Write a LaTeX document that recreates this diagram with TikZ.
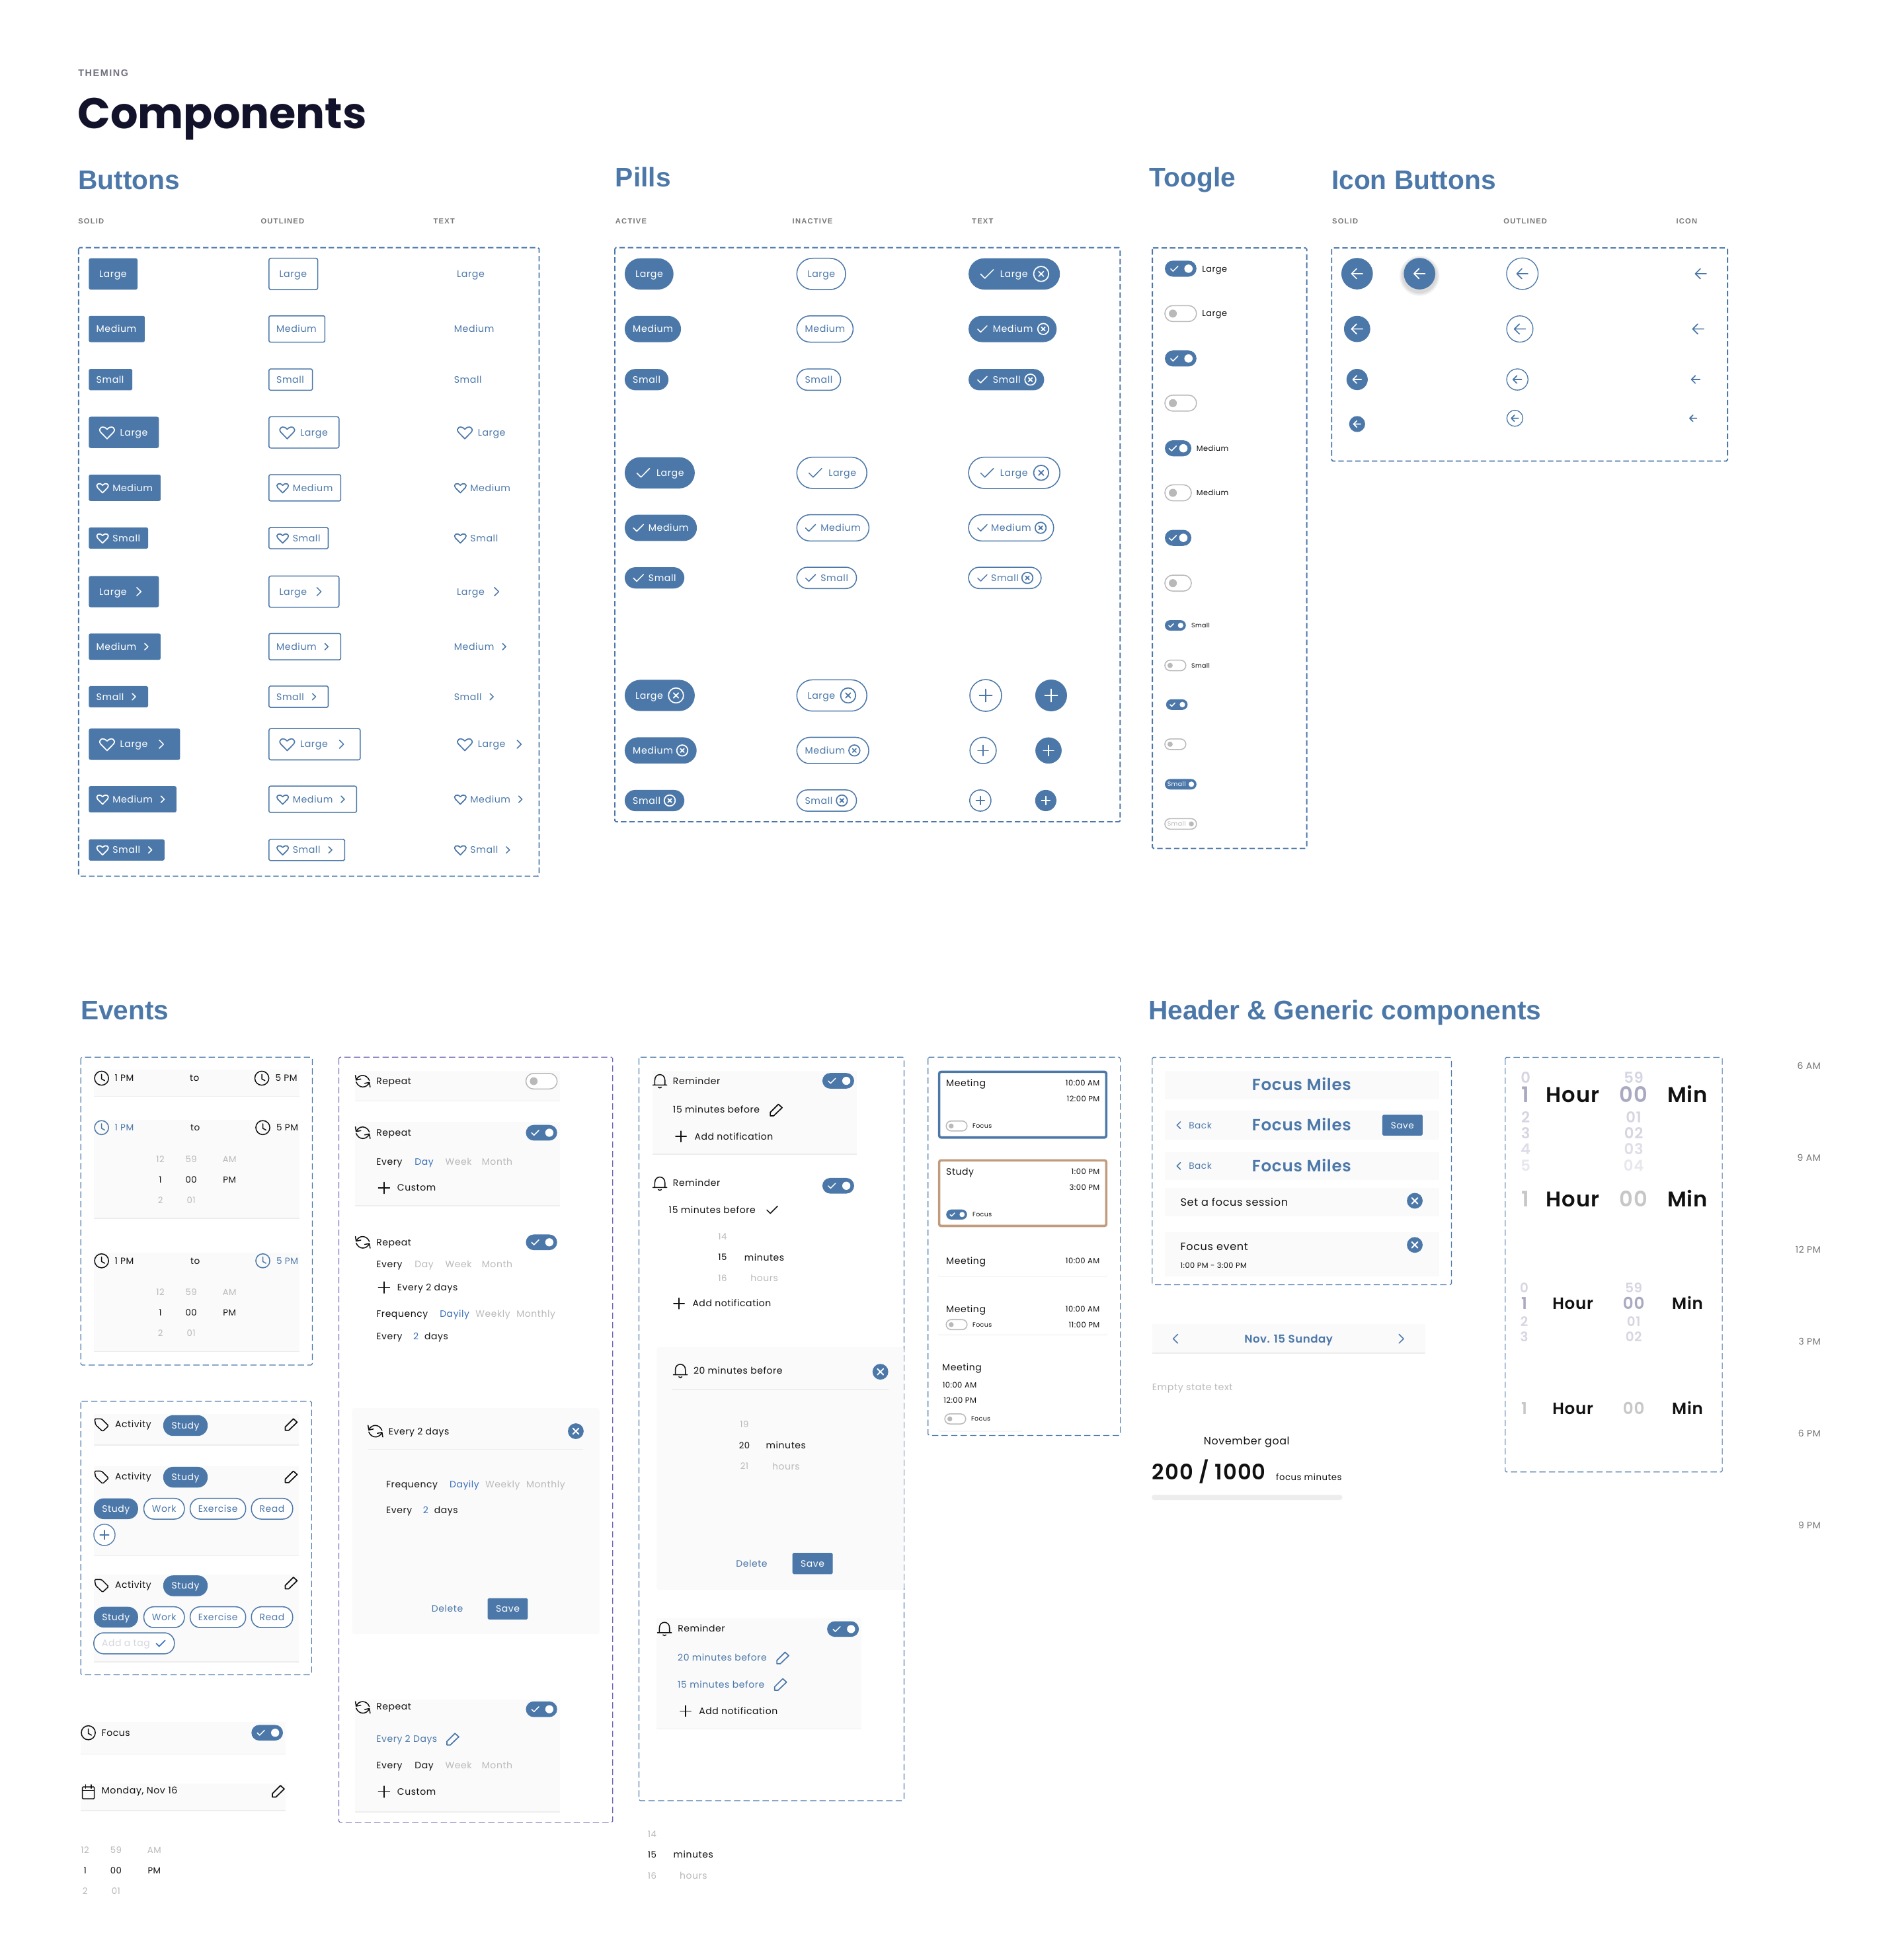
\documentclass[tikz,border=0pt]{standalone}
\usepackage{fontspec}
\usetikzlibrary{shadows}
\setmainfont{Poppins}
\newfontfamily\pop[LetterSpace=4]{Poppins}
\newfontfamily\popsb[LetterSpace=3]{Poppins SemiBold}
\newfontfamily\popbd{Poppins}[BoldFont=Poppins Bold]
\newfontfamily\hdfont{Liberation Sans}
\newfontfamily\capfont[LetterSpace=11]{Liberation Sans}
\definecolor{brand}{HTML}{4C78A9}
\definecolor{ink}{HTML}{111111}
\definecolor{navy}{HTML}{12122B}
\definecolor{mute}{HTML}{B9B9B9}
\definecolor{capgray}{HTML}{777777}
\definecolor{rowbg}{HTML}{FAFAFA}
\definecolor{rowline}{HTML}{EDEDED}
\definecolor{accent}{HTML}{2F6BC4}
\definecolor{tan}{HTML}{C19B7E}
\definecolor{violet}{HTML}{7065B5}
\definecolor{wheelA}{HTML}{A9A9C2}
\definecolor{wheelB}{HTML}{D6D6E2}
\tikzset{
  x=1pt,y=-1pt,
  icon/.style={line width=.8pt,line cap=round,line join=round},
  solidbtn/.style={fill=brand},
  outlbtn/.style={draw=brand,fill=white,line width=.8pt},
  textbtn/.style={},
  dashbox/.style={draw=brand,rounded corners=1pt,dash pattern=on 4.4pt off 2.3pt,line width=1pt},
  dashthin/.style={draw=brand,rounded corners=1pt,dash pattern=on 5pt off 2.6pt,line width=.6pt},
  softcard/.style={fill=white,rounded corners=1.5pt,drop shadow={opacity=.07,shadow xshift=0pt,shadow yshift=-1pt}}
}
\newcounter{labno}
\newcommand\labx[7]{\stepcounter{labno}\node[anchor=#1,inner sep=0pt,outer sep=0pt,text=#6,
  font={#2\fontsize{#5}{#5}\selectfont}] (lab\thelabno) at ({#3},{#4+.33*#5+.2}) {#7};}
\newcommand\lab[5][base west]{\labx{#1}{\pop}{#2}{#3}{#4}{#5}}
\newcommand\labsb[5][base west]{\labx{#1}{\popsb}{#2}{#3}{#4}{#5}}
% icons: x, y, colour, size
\newcommand\icnone[4]{}
\newcommand\icheart[4]{\begin{scope}[shift={(#1,#2)},scale=#4]
  \draw[icon,#3,line width=.9pt] (0,.85) -- (-.85,-.02) .. controls (-1.3,-.55) and (-.55,-1.05) .. (0,-.42)
    .. controls (.55,-1.05) and (1.3,-.55) .. (.85,-.02) -- cycle;\end{scope}}
\newcommand\iccheck[4]{\begin{scope}[shift={(#1,#2)},scale=#4]
  \draw[icon,#3] (-.85,.03) -- (-.3,.58) -- (.85,-.58);\end{scope}}
\newcommand\icxcirc[4]{\begin{scope}[shift={(#1,#2)},scale=#4]
  \draw[icon,#3,line width=.9pt] (0,0) circle (1) (-.33,-.33) -- (.33,.33) (-.33,.33) -- (.33,-.33);\end{scope}}
\newcommand\icxfill[4]{\begin{scope}[shift={(#1,#2)},scale=#4]
  \fill[#3] (0,0) circle (1);
  \draw[icon,white,line width=1pt] (-.38,-.38) -- (.38,.38) (-.38,.38) -- (.38,-.38);\end{scope}}
\newcommand\icchev[4]{\begin{scope}[shift={(#1,#2)},scale=#4]
  \draw[icon,#3] (-.28,-.55) -- (.28,0) -- (-.28,.55);\end{scope}}
\newcommand\icchevl[4]{\begin{scope}[shift={(#1,#2)},scale=#4]
  \draw[icon,#3] (.28,-.55) -- (-.28,0) -- (.28,.55);\end{scope}}
\newcommand\icarrow[4]{\begin{scope}[shift={(#1,#2)},scale=#4]
  \draw[icon,#3,line width=.9pt] (1,0) -- (-1,0) (-.1,-.9) -- (-1,0) -- (-.1,.9);\end{scope}}
\newcommand\icplus[4]{\begin{scope}[shift={(#1,#2)},scale=#4]
  \draw[icon,#3] (-1,0) -- (1,0) (0,-1) -- (0,1);\end{scope}}
\newcommand\icclock[4]{\begin{scope}[shift={(#1,#2)},scale=#4]
  \draw[icon,#3] (0,0) circle (1) (0,-.55) -- (0,.1) -- (.45,.35);\end{scope}}
\newcommand\ictag[4]{\begin{scope}[shift={(#1,#2)},scale=#4]
  \draw[icon,#3,rounded corners=.8pt] (-1,-.8) -- (0,-.8) -- (1,.2) -- (.15,1) -- (-.85,.05) -- cycle;\end{scope}}
\newcommand\icpen[4]{\begin{scope}[shift={(#1,#2)},scale=#4]
  \draw[icon,#3,line width=.9pt] (-.95,.95) -- (-.95,.4) -- (.35,-.9) -- (.95,-.35) -- (-.4,.95) -- cycle;\end{scope}}
\newcommand\icbell[4]{\begin{scope}[shift={(#1,#2)},scale=#4]
  \draw[icon,#3] (-1,.6) -- (1,.6) (-.72,.6) -- (-.72,-.1) .. controls (-.72,-1.15) and (.72,-1.15) .. (.72,-.1) -- (.72,.6)
    (-.22,.9) .. controls (-.1,1.05) and (.1,1.05) .. (.22,.9);\end{scope}}
\newcommand\icrepeat[4]{\begin{scope}[shift={(#1,#2)},scale=#4]
  \draw[icon,#3] (-.95,-.75) -- (-.85,-.15) -- (-.25,-.28) (-.85,-.15) .. controls (-.5,-.95) and (.5,-.95) .. (.85,-.1)
    (.95,.75) -- (.85,.15) -- (.25,.28) (.85,.15) .. controls (.5,.95) and (-.5,.95) .. (-.85,.1);\end{scope}}
\newcommand\iccal[4]{\begin{scope}[shift={(#1,#2)},scale=#4]
  \draw[icon,#3,rounded corners=.6pt] (-.85,-.7) rectangle (.85,1);
  \draw[icon,#3] (-.85,-.2) -- (.85,-.2) (-.4,-1) -- (-.4,-.5) (.4,-1) -- (.4,-.5);\end{scope}}
% one button or pill, reads the loop variables
\newcommand\chip[4]{%
  \pgfmathsetmacro\rr{#4*\h}
  \path[#1,rounded corners=\rr pt] ({#3},{\y-\h/2}) rectangle ({#3+\w},{\y+\h/2});
  \csname ic\li\endcsname{#3+\lo}{\y}{#2}{\is}
  \lab{#3+\tx}{\y}{7.5}{#2}{\lbl}
  \csname ic\ri\endcsname{#3+\ro}{\y}{#2}{\is}
}
\newcommand\tgon[4]{%
  \fill[brand,rounded corners=#4*.5pt] (#1,{#2-#4/2}) rectangle ({#1+#3},{#2+#4/2});
  \fill[white] ({#1+#3-#4/2},#2) circle ({.26*#4});
  \iccheck{#1+.3*#3}{#2}{white}{.27*#4}
}
\newcommand\tgoff[4]{%
  \draw[mute,fill=white,line width=.8pt,rounded corners=#4*.5pt] (#1,{#2-#4/2}) rectangle ({#1+#3},{#2+#4/2});
  \fill[mute] ({#1+#4/2},#2) circle ({.25*#4});
}
\newcommand\rowpanel[4]{%
  \fill[rowbg] (#1,#2) rectangle (#3,#4);
  \draw[rowline,line width=.8pt] (#1,#4) -- (#3,#4);
}
\newcommand\timewheel[4]{%
  \lab[base]{#1}{#4}{7}{mute}{12}\lab[base]{#2}{#4}{7}{mute}{59}\lab[base]{#3}{#4}{7}{mute}{AM}
  \lab[base]{#1}{#4+16.3}{7}{ink}{1}\lab[base]{#2}{#4+16.3}{7}{ink}{00}\lab[base]{#3}{#4+16.3}{7}{ink}{PM}
  \lab[base]{#1}{#4+32.7}{7}{mute}{2}\lab[base]{#2}{#4+32.7}{7}{mute}{01}
}
\newcommand\minwheel[6]{%
  \lab[base]{#1}{#3}{7}{mute}{#4}
  \lab[base]{#1}{#3+16.7}{7}{ink}{#5}\lab[base]{#2}{#3+16.7}{7.4}{ink}{minutes}
  \lab[base]{#1}{#3+33.4}{7}{mute}{#6}\lab[base]{#2}{#3+33.4}{7.4}{mute}{hours}
}
\newcommand\heading[3]{\labx{base west}{\hdfont\bfseries}{#1}{#2-.1}{21.5}{brand}{#3}}
\newcommand\collabel[3]{\labx{base west}{\capfont\bfseries}{#1}{#2}{5.9}{capgray}{#3}}
\newcommand\tagchip[6]{%
  \path[#5,rounded corners=8pt] (#1,{#3-8.3}) rectangle (#2,{#3+8.3});
  \lab[base]{(#1+#2)/2}{#3}{7.4}{#6}{#4}
}
\newcommand\activity[3]{%
  \ictag{81.2}{#1}{ink}{5.6}
  \lab{92}{#1}{7.4}{ink}{Activity}
  \tagchip{130.5}{166}{#2}{Study}{solidbtn}{white}
  \icpen{232.8}{#3}{ink}{5}
}
\newcommand\tagrow[1]{%
  \tagchip{75}{110.4}{#1}{Study}{solidbtn}{white}
  \tagchip{115}{147.4}{#1}{Work}{outlbtn}{brand}
  \tagchip{152}{196.4}{#1}{Exercise}{outlbtn}{brand}
  \tagchip{201}{234}{#1}{Read}{outlbtn}{brand}
}
\newcommand\everyrow[2]{%
  \lab{300.9}{#1}{7.4}{ink}{Every}
  \lab{331.6}{#1}{7.4}{#2}{Day}
  \lab{356}{#1}{7.4}{mute}{Week}
  \lab{385.2}{#1}{7.4}{mute}{Month}
}
\newcommand\freqrows[3]{%
  \lab{#1}{#2}{7.4}{ink}{Frequency}
  \lab{#1+50.7}{#2}{7.4}{accent!70!brand}{Dayily}
  \lab{#1+79.3}{#2}{7.4}{mute}{Weekly}
  \lab{#1+112}{#2}{7.4}{mute}{Monthly}
  \lab{#1}{#3}{7.4}{ink}{Every}
  \lab{#1+29.5}{#3}{7.4}{accent!70!brand}{2}
  \lab{#1+38.4}{#3}{7.4}{ink}{days}
}
\newcommand\saverow[3]{%
  \lab{#1}{#3}{7.4}{brand}{Delete}
  \fill[brand,rounded corners=1pt] (#2,{#3-8.5}) rectangle ({#2+32.2},{#3+8.5});
  \lab[base]{#2+16.1}{#3}{7.4}{white}{Save}
}
\newcommand\meetcard[7]{%
  \draw[#1,fill=white,rounded corners=1.5pt,line width=1.9pt] (750.8,{#2+.9}) rectangle (884.4,{#3-.9});
  \lab{756.4}{#2+10}{7.4}{ink}{#4}
  \lab[base east]{879.1}{#2+10}{6.1}{ink}{#5}
  \lab[base east]{879.1}{#2+22.6}{6.1}{ink}{#6}
  #7{756.4}{#2+44.2}{16.7}{8}
  \lab{777.5}{#2+44.2}{5}{ink}{Focus}
}
\newcommand\hourset[4]{%
  \labsb[base]{#2}{#1}{#3}{#4}{1}
  \labsb[base]{1257.4}{#1}{#3}{ink}{Hour}
  \labsb[base]{1306}{#1}{#3}{#4}{00}
  \labsb[base]{1349}{#1}{#3}{ink}{Min}
}
\begin{document}
\begin{tikzpicture}
  \useasboundingbox (0,0) rectangle (1520,1567);
  \fill[white] (0,0) rectangle (1520,1567);
  % title
  \labx{base west}{\capfont\bfseries}{62.5}{58.5}{7.6}{navy!60!white}{THEMING}
  \labx{base west}{\popbd\bfseries}{62}{91}{34.5}{navy}{Components}
  \heading{62.5}{144}{Buttons}
  \heading{492}{142}{Pills}
  \heading{919}{142}{Toogle}
  \heading{1064.5}{144}{Icon Buttons}
  \heading{64.5}{808}{Events}
  \heading{918}{808}{Header \& Generic components}
  \collabel{62.5}{177}{SOLID}\collabel{208.5}{177}{OUTLINED}\collabel{346.5}{177}{TEXT}
  \collabel{492}{177}{ACTIVE}\collabel{633.5}{177}{INACTIVE}\collabel{777}{177}{TEXT}
  \collabel{1065}{176.5}{SOLID}\collabel{1202}{176.5}{OUTLINED}\collabel{1340}{176.5}{ICON}
  % buttons
  \draw[dashbox] (62.8,198) rectangle (431,700.5);
  \def\btnrows{219/25/39/Large/8.3/none/0/none/0/6,
    263/21/44.7/Medium/6/none/0/none/0/4.7,
    303.5/17/34.8/Small/6/none/0/none/0/4.7,
    345.7/25/56/Large/25/heart/14.6/none/0/6,
    390/21/57.4/Medium/19/heart/11/none/0/4.7,
    430.2/17/47.4/Small/19/heart/11/none/0/4.7,
    473/25/56/Large/8.3/none/0/chev/40/6,
    517/21/57.4/Medium/6/none/0/chev/46/4.7,
    557/17/47.4/Small/6/none/0/chev/36/4.7,
    595/25/73/Large/25/heart/14.6/chev/58/6,
    639/21/70/Medium/19/heart/11/chev/59/4.7,
    679.5/17/60.5/Small/19/heart/11/chev/49/4.7}
  \foreach \cx/\sty/\fg in {71/solidbtn/white,215/outlbtn/brand,357/textbtn/brand} {
    \foreach \y/\h/\w/\lbl/\tx/\li/\lo/\ri/\ro/\is in \btnrows {
      \chip{\sty}{\fg}{\cx}{.06}
    }
  }
  % pills
  \draw[dashbox] (491.5,198) rectangle (895.5,657);
  \def\pillrows{219/25/39/Large/8.6/none/0/none/0/6,
    263/21/45/Medium/6.5/none/0/none/0/4.7,
    303.5/17/35/Small/6.5/none/0/none/0/4.7,
    378/25/56/Large/25.4/check/14.8/none/0/6,
    422/21/57.7/Medium/19/check/11/none/0/4.7,
    462/17/47.7/Small/19/check/11/none/0/4.7,
    556/25/56/Large/8.6/none/0/xcirc/41/6,
    600/21/57.5/Medium/6.5/none/0/xcirc/46/4.4,
    640/17/47.7/Small/6.5/none/0/xcirc/36/4.4}
  \foreach \cx/\sty/\fg in {499.4/solidbtn/white,637/outlbtn/brand} {
    \foreach \y/\h/\w/\lbl/\tx/\li/\lo/\ri/\ro/\is in \pillrows {
      \chip{\sty}{\fg}{\cx}{.5}
    }
  }
  \foreach \y/\h/\w/\lbl/\tx/\li/\lo/\ri/\ro/\is in {219/25/73/Large/25.3/check/14.8/xcirc/58/6,
    263/21/70.4/Medium/19.4/check/11/xcirc/59.7/4.4,
    303.5/17/60.4/Small/19.4/check/11/xcirc/49.4/4.4} {
    \chip{solidbtn}{white}{774.3}{.5}
  }
  \foreach \y/\h/\w/\lbl/\tx/\li/\lo/\ri/\ro/\is in {378/25/73/Large/25.3/check/14.8/xcirc/58/6,
    422/21/68/Medium/18/check/11/xcirc/57.6/4.4,
    462/17/58/Small/18/check/11/xcirc/47/4.4} {
    \chip{outlbtn}{brand}{774.3}{.5}
  }
  \foreach \y/\r/\xo/\xs in {556/12.7/788/840.3,600/10.5/785.9/838.2,640/8.5/783.7/836} {
    \draw[brand,line width=.8pt] (\xo,\y) circle (\r);
    \icplus{\xo}{\y}{brand}{.4*\r}
    \fill[brand] (\xs,\y) circle (\r);
    \icplus{\xs}{\y}{white}{.4*\r}
  }
  % toggles
  \draw[dashbox] (921.2,198.2) rectangle (1044.6,678.3);
  \tgon{931.2}{214.8}{25.3}{12.8}\lab{961}{214.8}{6.8}{ink}{Large}
  \tgoff{931.2}{250.7}{25.3}{12.8}\lab{961}{250.7}{6.8}{ink}{Large}
  \tgon{931.2}{286.6}{25.3}{12.8}
  \tgoff{931.2}{322.3}{25.3}{12.8}
  \tgon{931.2}{358.4}{21.2}{12.8}\lab{956.5}{358.4}{6}{ink}{Medium}
  \tgoff{931.2}{394}{21.2}{12.8}\lab{956.5}{394}{6}{ink}{Medium}
  \tgon{931.2}{430}{21.2}{12.8}
  \tgoff{931.2}{466.2}{21.2}{12.8}
  \tgon{931.2}{500}{16.8}{8.4}\lab{952.4}{500}{5}{ink}{Small}
  \tgoff{931.2}{532}{16.8}{8.4}\lab{952.4}{532}{5}{ink}{Small}
  \tgon{932.2}{563.3}{17.2}{8.4}
  \tgoff{931.2}{595}{16.8}{8.4}
  \fill[brand,rounded corners=4.2pt] (931.2,622.8) rectangle (956.5,631.2);
  \lab{933.2}{627}{5}{white}{Small}
  \fill[white] (952.4,627) circle (2.2);
  \draw[mute,line width=.8pt,rounded corners=4.2pt] (931.2,654.5) rectangle (956.5,662.9);
  \lab{933.2}{658.7}{5}{mute}{Small}
  \fill[mute] (952.4,658.7) circle (2);
  % icon buttons
  \draw[dashbox] (1064.5,198.2) rectangle (1381,368.6);
  \foreach \r in {16,15,14} {
    \fill[black,opacity=.05] (1134.8,220.5) circle (\r);
  }
  \fill[brand] (1134.8,218.8) circle (12.6);
  \icarrow{1134.8}{218.8}{white}{4.4}
  \foreach \ys/\yo/\r/\xo/\xa/\ia/\xb in {218.8/218.8/12.6/1217/1359.7/4.4/1084.9,
    263/263/10.5/1215/1357.6/4.4/1084.9,303.4/303.4/8.5/1213/1355.6/3.4/1084.9,339/334.4/6.4/1211/1353.6/2.8/1084.9} {
    \fill[brand] (\xb,\ys) circle (\r);
    \icarrow{\xb}{\ys}{white}{\ia}
    \draw[brand,line width=.7pt] (\xo,\yo) circle (\r);
    \icarrow{\xo}{\yo}{brand}{\ia}
    \icarrow{\xa}{\yo}{brand}{\ia}
  }
  % events, time
  \draw[dashthin] (64.6,845.2) rectangle (249.7,1091.3);
  \rowpanel{74.9}{855.3}{239.4}{876.4}
  \icclock{81.2}{862}{ink}{5.6}\lab{91.8}{862}{7.2}{ink}{1 PM}
  \lab{151.7}{862}{7.2}{ink}{to}
  \icclock{209.3}{862}{ink}{5.6}\lab{220.2}{862}{7.2}{ink}{5 PM}
  \rowpanel{74.9}{895.1}{239.4}{974}
  \icclock{81.2}{901.5}{brand}{5.6}\lab{91.8}{901.5}{7.2}{brand}{1 PM}
  \lab{152.3}{901.5}{7.2}{ink}{to}
  \icclock{210.1}{901.5}{ink}{5.6}\lab{221}{901.5}{7.2}{ink}{5 PM}
  \timewheel{128.2}{152.8}{183.5}{927.1}
  \rowpanel{74.9}{1001.3}{239.4}{1080.5}
  \icclock{81.2}{1008}{ink}{5.6}\lab{91.8}{1008}{7.2}{ink}{1 PM}
  \lab{152.3}{1008}{7.2}{ink}{to}
  \icclock{210.1}{1008}{brand}{5.6}\lab{221}{1008}{7.2}{brand}{5 PM}
  \timewheel{128.2}{152.8}{183.5}{1033.3}
  % events, activity
  \draw[dashthin] (64.6,1120.3) rectangle (249.1,1339);
  \rowpanel{74.9}{1130.7}{239}{1155.3}
  \activity{1138.8}{1139.7}{1138.8}
  \rowpanel{74.9}{1172}{239}{1243.7}
  \activity{1180.6}{1181}{1180.6}
  \tagrow{1206.2}
  \draw[brand,fill=white,line width=.7pt] (83.5,1227.1) circle (8.5);
  \icplus{83.5}{1227.1}{brand}{3.6}
  \rowpanel{74.9}{1259}{239}{1328.6}
  \activity{1267.3}{1267.8}{1265.5}
  \tagrow{1292.9}
  \draw[brand,fill=white,line width=.8pt,rounded corners=8pt] (75,1305.4) rectangle (139.4,1322.2);
  \lab{81.5}{1313.8}{7.4}{wheelB}{Add a tag}
  \iccheck{128.5}{1313.8}{accent}{4.2}
  % focus, date, loose wheel
  \rowpanel{64.6}{1376.9}{228.2}{1402.3}
  \icclock{70.6}{1385.3}{ink}{5.6}\lab{81.2}{1385.3}{7.4}{ink}{Focus}
  \tgon{201}{1385.3}{25.2}{12.5}
  \rowpanel{64.6}{1426.1}{228.2}{1447.5}
  \iccal{70.6}{1432.5}{ink}{5.6}\lab{81.2}{1431.5}{7.5}{ink}{Monday, Nov 16}
  \icpen{222.5}{1432}{ink}{5}
  \timewheel{68}{92.7}{123.3}{1479}
  % events, repeat
  \draw[dashthin,violet] (270.9,845.2) rectangle (489.8,1457);
  \rowpanel{283.8}{856}{447.7}{880.3}
  \icrepeat{290}{864.4}{ink}{6.2}\lab{300.9}{864.4}{7.4}{ink}{Repeat}
  \tgoff{420.4}{864.4}{25}{12.5}
  \rowpanel{283.8}{896.8}{447.7}{963.9}
  \icrepeat{290}{905.6}{ink}{6.2}\lab{300.9}{905.6}{7.4}{ink}{Repeat}
  \tgon{420.4}{905.6}{25}{12.5}
  \everyrow{928.8}{accent!70!brand}
  \icplus{307}{949.7}{ink}{4.5}\lab{317.6}{949.7}{7.4}{ink}{Custom}
  \icrepeat{290}{993.2}{ink}{6.2}\lab{300.9}{993.2}{7.4}{ink}{Repeat}
  \tgon{420.4}{993.2}{25}{12.5}
  \everyrow{1011}{mute}
  \icplus{307}{1029.3}{ink}{4.5}\lab{317.6}{1029.3}{7.4}{ink}{Every 2 days}
  \freqrows{300.9}{1050.2}{1068.4}
  \fill[rowbg,rounded corners=2pt] (281.5,1125.7) rectangle (479.2,1306.4);
  \icrepeat{300.1}{1144.2}{ink}{6.2}\lab{310.7}{1144.2}{7.4}{ink}{Every 2 days}
  \icxfill{460.3}{1144.2}{brand}{6.3}
  \draw[rowline,line width=.6pt] (293.8,1158.7) -- (466.3,1158.7);
  \freqrows{308.7}{1186.7}{1207.6}
  \saverow{345.1}{389.8}{1286.2}
  \rowpanel{283.8}{1358.6}{447.7}{1448.5}
  \icrepeat{290}{1365}{ink}{6.2}\lab{300.9}{1364.5}{7.4}{ink}{Repeat}
  \tgon{420.4}{1366.5}{25}{12.5}
  \lab{300.9}{1390.3}{7.4}{brand}{Every 2 Days}
  \icpen{362}{1390.3}{brand}{5}
  \everyrow{1411.3}{ink}
  \icplus{307}{1432.5}{ink}{4.5}\lab{317.6}{1432.5}{7.4}{ink}{Custom}
  % events, reminder
  \draw[dashthin] (510.8,845.2) rectangle (722.7,1439.6);
  \rowpanel{521.5}{856}{685}{922.8}
  \icbell{527.5}{864.1}{ink}{5.6}\lab{538}{864.1}{7.4}{ink}{Reminder}
  \tgon{657.4}{864.1}{25.4}{12.5}
  \lab{538}{887.3}{7.4}{ink}{15 minutes before}
  \icpen{620.5}{887.3}{ink}{5}
  \icplus{544.4}{908.6}{ink}{4.3}\lab{555.2}{908.6}{7.4}{ink}{Add notification}
  \icbell{527.5}{946}{ink}{5.6}\lab{538}{946}{7.4}{ink}{Reminder}
  \tgon{657.4}{948}{25.4}{12.5}
  \lab{534.7}{967.2}{7.4}{ink}{15 minutes before}
  \iccheck{617.3}{967.2}{ink}{5}
  \minwheel{577.6}{611}{988.5}{14}{15}{16}
  \icplus{542.8}{1042.1}{ink}{4.3}\lab{553.6}{1042.1}{7.4}{ink}{Add notification}
  \fill[rowbg,rounded corners=2pt] (525,1077.1) rectangle (722.7,1271);
  \icbell{543.9}{1095.7}{ink}{5.6}\lab{554.4}{1095.7}{7.4}{ink}{20 minutes before}
  \icxfill{703.8}{1096.7}{brand}{6.3}
  \draw[rowline,line width=.7pt] (537.7,1110.9) -- (710.3,1110.9);
  \minwheel{595.1}{628.3}{1138.8}{19}{20}{21}
  \saverow{588.4}{633.5}{1250}
  \rowpanel{525}{1293.7}{688.5}{1382.2}
  \icbell{531.2}{1302}{ink}{5.6}\lab{541.9}{1302}{7.4}{ink}{Reminder}
  \tgon{661.2}{1302.4}{25.4}{12.5}
  \lab{541.8}{1325.4}{7.4}{brand}{20 minutes before}
  \icpen{625.8}{1325.4}{brand}{5}
  \lab{541.8}{1346.6}{7.4}{brand}{15 minutes before}
  \icpen{624}{1346.6}{brand}{5}
  \icplus{548.1}{1367.9}{ink}{4.3}\lab{558.8}{1367.9}{7.4}{ink}{Add notification}
  \minwheel{521.3}{554.3}{1466.2}{14}{15}{16}
  % events, cards
  \draw[dashthin] (741.9,845.2) rectangle (895.6,1147.6);
  \meetcard{brand}{856}{910.3}{Meeting}{10:00 AM}{12:00 PM}{\tgoff}
  \meetcard{tan}{926.8}{981}{Study}{1:00 PM}{3:00 PM}{\tgon}
  \path[softcard] (749.9,996.9) rectangle (885.3,1020);
  \lab{756.4}{1008}{7.4}{ink}{Meeting}\lab[base east]{879.1}{1008}{6.1}{ink}{10:00 AM}
  \path[softcard] (749.9,1036.7) rectangle (885.3,1066.7);
  \lab{756.4}{1046.5}{7.4}{ink}{Meeting}\lab[base east]{879.1}{1046.5}{6.1}{ink}{10:00 AM}
  \tgoff{756.4}{1059}{16.7}{8}\lab{777.5}{1059}{5}{ink}{Focus}\lab[base east]{879.1}{1059}{6.1}{ink}{11:00 PM}
  \path[softcard] (749.9,1082.9) rectangle (817.6,1143.6);
  \lab{753.2}{1093}{7.4}{ink}{Meeting}
  \lab{753.5}{1107.1}{6.1}{ink}{10:00 AM}
  \lab{754.3}{1119.6}{6.1}{ink}{12:00 PM}
  \tgoff{755.3}{1134.4}{16.7}{8}\lab{776.4}{1134.4}{5}{ink}{Focus}
  % header and generic
  \draw[dashthin] (921.1,845.3) rectangle (1160.3,1027.1);
  \fill[rowbg] (931.1,855.9) rectangle (1150.3,878.8);
  \fill[rowbg] (931.1,888) rectangle (1150.3,910.9);
  \fill[rowbg] (931.1,920.9) rectangle (1150.3,943.5);
  \fill[rowbg] (931.1,949.5) rectangle (1150.3,972.6);
  \fill[rowbg] (931.1,985) rectangle (1150.3,1020.4);
  \labsb[base]{1040.5}{867.2}{13}{brand}{Focus Miles}
  \labsb[base]{1040.5}{899.6}{13}{brand}{Focus Miles}
  \labsb[base]{1040.5}{932.2}{13}{brand}{Focus Miles}
  \icchevl{942.3}{899.6}{brand}{5}\lab{950.4}{899.6}{7.2}{brand}{Back}
  \icchevl{942.3}{932.2}{brand}{5}\lab{950.4}{932.2}{7.2}{brand}{Back}
  \fill[brand,rounded corners=1pt] (1105,891.2) rectangle (1137.3,907.9);
  \lab[base]{1121.1}{899.6}{7.2}{white}{Save}
  \lab{943.7}{961.3}{8.5}{ink}{Set a focus session}
  \icxfill{1131}{960}{brand}{6.3}
  \lab{943.7}{996.7}{8.5}{ink}{Focus event}
  \lab{943.7}{1011.5}{6}{ink}{1:00 PM - 3:00 PM}
  \icxfill{1131}{995.3}{brand}{6.3}
  \rowpanel{921.1}{1058.4}{1139.5}{1081.9}
  \icchevl{939.7}{1070.3}{brand}{6.5}
  \icchev{1120.2}{1070.3}{brand}{6.5}
  \labsb[base]{1030.1}{1070.3}{8.8}{brand}{Nov. 15 Sunday}
  \lab{921.1}{1109.1}{7.5}{mute}{Empty state text}
  \lab{962.3}{1152}{8.4}{ink}{November goal}
  \labsb{921.1}{1177}{17}{ink}{200 / 1000}
  \lab{1020.1}{1181}{7}{ink}{focus minutes}
  \fill[rowline,rounded corners=2pt] (920.7,1195.1) rectangle (1073.1,1199.2);
  % hour wheels
  \draw[dashthin] (1203.3,845.3) rectangle (1376.8,1176.8);
  \hourset{875.3}{1219.6}{17}{wheelA}
  \hourset{959.2}{1219.6}{17}{mute!80!white}
  \hourset{1042.2}{1218.5}{13}{wheelA}
  \hourset{1126.4}{1218.5}{13}{mute!80!white}
  \foreach \y/\a/\b/\c in {861.8/0/59/wheelB,893.6/2/01/wheelB,906.3/3/02/wheelB,919/4/03/wheelB!80!white,931.9/5/04/wheelB!60!white} {
    \labsb[base]{1219.6}{\y}{12}{\c}{\a}
    \labsb[base]{1306}{\y}{12}{\c}{\b}
  }
  \foreach \y/\a/\b in {1029.8/0/59,1056.5/2/01,1068.9/3/02} {
    \labsb[base]{1218.5}{\y}{10.5}{wheelB}{\a}
    \labsb[base]{1306}{\y}{10.5}{wheelB}{\b}
  }
  % hour scale
  \foreach \y/\t in {852.1/6 AM,925.4/9 AM,999.1/12 PM,1072.4/3 PM,1145.8/6 PM,1219.4/9 PM} {
    \lab[base east]{1455.4}{\y}{7.4}{capgray}{\t}
  }
\end{tikzpicture}
\end{document}
